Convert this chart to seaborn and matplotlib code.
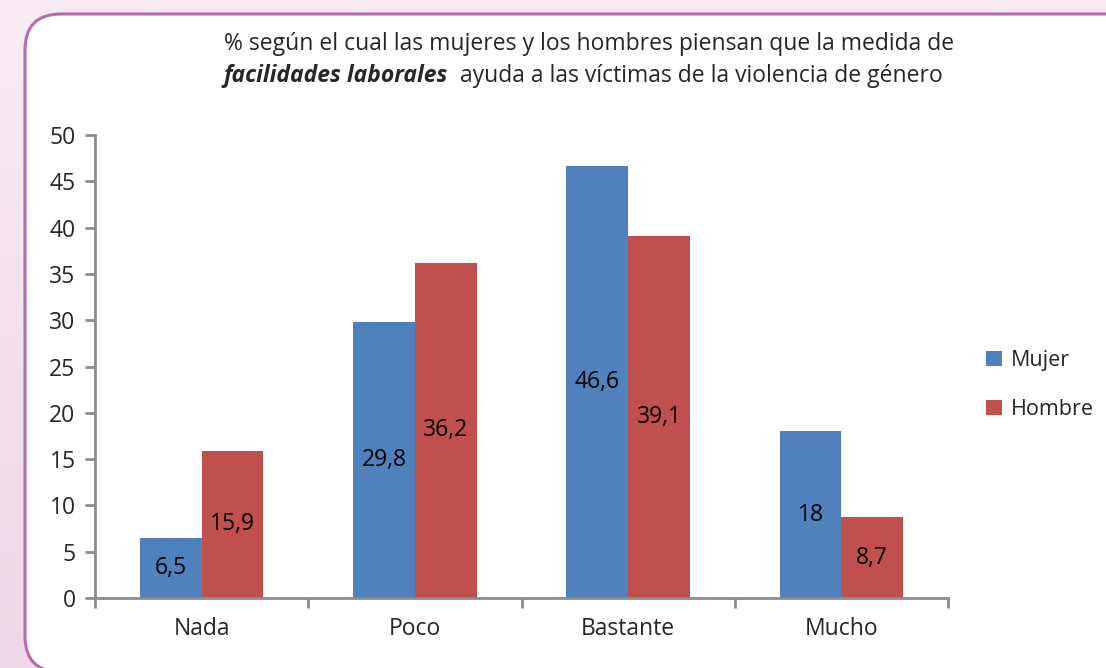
import numpy as np
import pandas as pd
import matplotlib
matplotlib.use("Agg")
import matplotlib.pyplot as plt
from matplotlib.patches import FancyBboxPatch
from matplotlib.colors import LinearSegmentedColormap
import seaborn as sns

# data
categories = ["Nada", "Poco", "Bastante", "Mucho"]
mujer = [6.5, 29.8, 46.6, 18]
hombre = [15.9, 36.2, 39.1, 8.7]
series = ["Mujer", "Hombre"]
yticks = [0, 5, 10, 15, 20, 25, 30, 35, 40, 45, 50]

df = pd.DataFrame({
    "categoria": categories * 2,
    "valor": mujer + hombre,
    "sexo": ["Mujer"] * 4 + ["Hombre"] * 4,
})

sns.set_style("white")
plt.rcParams["font.family"] = ["Open Sans", "DejaVu Sans"]

fig = plt.figure(figsize=(11.06, 6.68), dpi=100)

# pink gradient background, pixel coordinates
bg = fig.add_axes([0, 0, 1, 1], zorder=-10)
grad = np.linspace(0, 1, 256).reshape(-1, 1)
cmap = LinearSegmentedColormap.from_list("bg", ["#F8EBF3", "#F0D7E7"])
bg.imshow(grad, aspect="auto", cmap=cmap, extent=[0, 1106, 668, 0])
bg.set_xlim(0, 1106)
bg.set_ylim(668, 0)
bg.set_axis_off()

# white rounded panel
box = FancyBboxPatch((25, 14), 1200, 658,
                     boxstyle="round,pad=0,rounding_size=36",
                     facecolor="white", edgecolor="#B36FAA", linewidth=2.2)
bg.add_patch(box)

ax = fig.add_axes([95 / 1106, 1 - 598 / 668, 853 / 1106, (598 - 135) / 668])
ax.patch.set_alpha(0)
sns.barplot(data=df, x="categoria", y="valor", hue="sexo", order=categories,
            hue_order=series, palette=["#4F81BD", "#C0504D"], width=0.58,
            gap=0, saturation=1, ax=ax, edgecolor="none")

for cont in ax.containers:
    ax.bar_label(cont, labels=[f"{v:g}".replace(".", ",") for v in cont.datavalues],
                 label_type="center", fontsize=16.5, color="black")

ax.set_ylim(0, 50)
ax.set_xlim(-0.5, 3.5)
ax.set_yticks(yticks)
ax.set_xlabel("")
ax.set_ylabel("")
ax.tick_params(axis="y", labelsize=16.5, length=7, width=2, color="#8C8C8C",
               direction="out", left=True, pad=7)
ax.set_xticks(range(4))
ax.set_xticklabels(categories, fontsize=16.5)
ax.tick_params(axis="x", length=0, pad=14)
ax.set_xticks([-0.5, 0.5, 1.5, 2.5, 3.5], minor=True)
ax.tick_params(axis="x", which="minor", length=7, width=2, color="#8C8C8C",
               direction="out", bottom=True)
for s in ["top", "right"]:
    ax.spines[s].set_visible(False)
for s in ["left", "bottom"]:
    ax.spines[s].set_color("#8C8C8C")
    ax.spines[s].set_linewidth(2)

ax.legend(loc="center left", bbox_to_anchor=(1.035, 0.46), frameon=False,
          fontsize=15.5, handlelength=0.7, handleheight=0.7,
          handletextpad=0.45, labelspacing=1.3, borderaxespad=0)

# title, second line with bold italic part
fig.text(589 / 1106, 1 - 44 / 668, "% según el cual las mujeres y los hombres piensan que la medida de",
         ha="center", va="center", fontsize=16.5)
fig.canvas.draw()
r = fig.canvas.get_renderer()
p1 = "facilidades laborales"
p2 = "  ayuda a las víctimas de la violencia de género"
t1 = fig.text(0, 1 - 76 / 668, p1, ha="left", va="center", fontsize=16.5,
              fontweight="bold", fontstyle="italic")
t2 = fig.text(0, 1 - 76 / 668, p2, ha="left", va="center", fontsize=16.5)
w1 = t1.get_window_extent(r).width / fig.bbox.width
w2 = t2.get_window_extent(r).width / fig.bbox.width
x0 = 583 / 1106 - (w1 + w2) / 2
t1.set_x(x0)
t2.set_x(x0 + w1)

fig.savefig("out.png", dpi=100)
